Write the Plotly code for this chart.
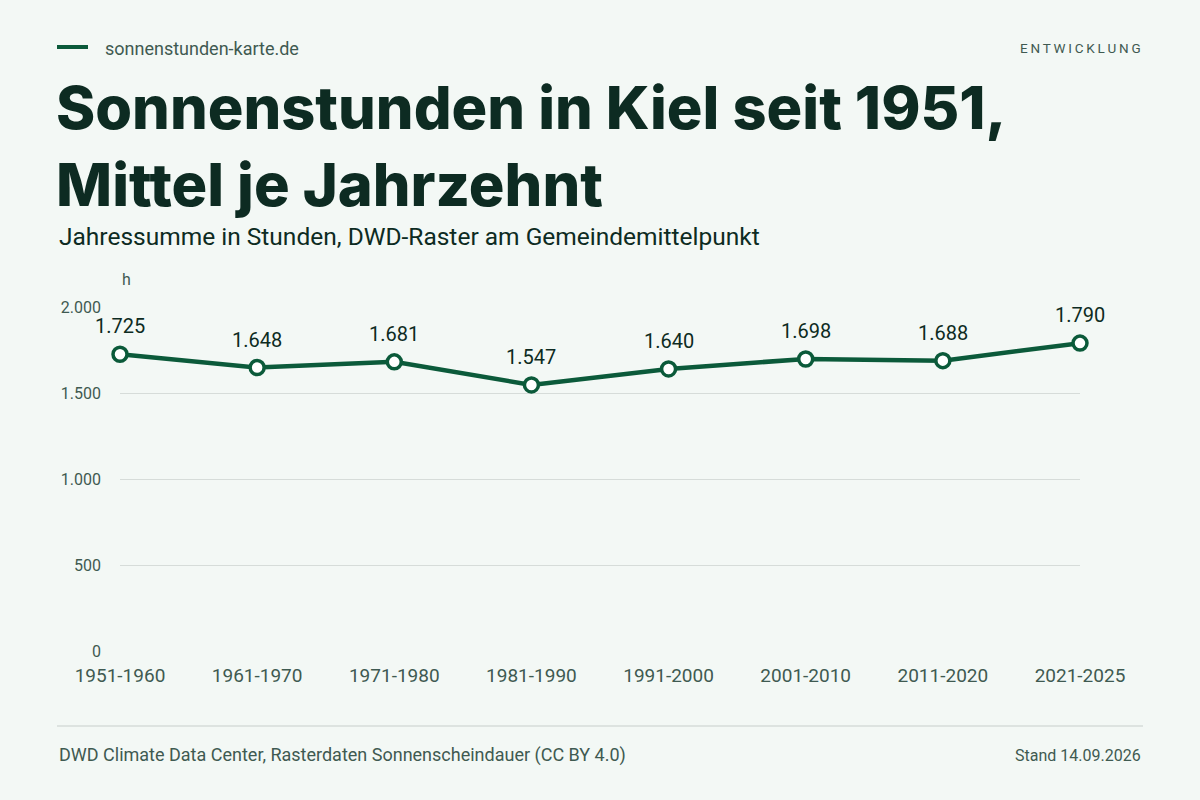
import plotly.graph_objects as go

decades = ["1951-1960", "1961-1970", "1971-1980", "1981-1990",
           "1991-2000", "2001-2010", "2011-2020", "2021-2025"]
hours = [1725, 1648, 1681, 1547, 1640, 1698, 1688, 1790]
y_ticks = [0, 500, 1000, 1500, 2000]
y_tick_text = ["0", "500", "1.000", "1.500", "2.000"]

BG = "#f3f8f5"
GREEN = "#0b5a3a"
DARK = "#0d2b22"
MUTED = "#3f5a51"
GRID = "#d6dcd9"
FONT = "Roboto"

labels = [f"{v:,}".replace(",", ".") for v in hours]
xs = list(range(len(decades)))

fig = go.Figure()
fig.add_trace(go.Scatter(
    x=xs, y=hours,
    mode="lines+markers",
    line=dict(color=GREEN, width=4.5),
    marker=dict(size=14, color="white", line=dict(color=GREEN, width=3.5)),
    cliponaxis=False, hoverinfo="skip",
))
for x, y, t in zip(xs, hours, labels):
    fig.add_annotation(x=x, y=y, text=t, showarrow=False, yshift=28,
                       font=dict(family=FONT, size=20, color=DARK))

fig.update_xaxes(
    range=[0, len(decades) - 1], tickvals=xs, ticktext=decades,
    showgrid=False, zeroline=False, showline=False,
    tickfont=dict(family=FONT, size=19, color=MUTED), ticks="", ticklabelstandoff=11,
)
fig.update_yaxes(
    range=[0, 2000], tickvals=y_ticks, ticktext=y_tick_text,
    showgrid=True, gridcolor=GRID, gridwidth=1, zeroline=False, showline=False,
    tickfont=dict(family=FONT, size=16, color=MUTED), ticks="", ticklabelstandoff=18,
)

px_x = lambda p: (p - 120) / 960
px_y = lambda p: (651 - p) / 344

# header / footer
fig.add_shape(type="line", xref="paper", yref="paper", x0=px_x(57), x1=px_x(88),
              y0=px_y(47), y1=px_y(47), line=dict(color=GREEN, width=4))
fig.add_shape(type="line", xref="paper", yref="paper", x0=px_x(57), x1=px_x(1143),
              y0=px_y(726), y1=px_y(726), line=dict(color=GRID, width=1.5))

def note(text, x, y, size, color, anchor="left", family=FONT, weight="normal"):
    fig.add_annotation(text=text, xref="paper", yref="paper", x=x, y=y,
                       xanchor=anchor, yanchor="middle", showarrow=False, align="left",
                       font=dict(family=family, size=size, color=color, weight=weight))

note("sonnenstunden-karte.de", px_x(103), px_y(48), 18, MUTED)
note("E\u2009N\u2009T\u2009W\u2009I\u2009C\u2009K\u2009L\u2009U\u2009N\u2009G", px_x(1143), px_y(48), 13.5, MUTED, anchor="right")
note("Sonnenstunden in Kiel seit 1951,<br>Mittel je Jahrzehnt", px_x(54), px_y(145), 59.5,
     DARK, family="Inter", weight=800)
note("Jahressumme in Stunden, DWD-Raster am Gemeindemittelpunkt", px_x(57), px_y(236), 24.5, DARK)
note("h", px_x(120), px_y(279), 16, MUTED)
note("DWD Climate Data Center, Rasterdaten Sonnenscheindauer (CC BY 4.0)", px_x(57), px_y(755), 18, MUTED)
note("Stand 14.09.2026", px_x(1143), px_y(755), 16, MUTED, anchor="right")

fig.update_layout(
    width=1200, height=800,
    paper_bgcolor=BG, plot_bgcolor=BG,
    margin=dict(l=120, r=120, t=307, b=149),
    showlegend=False,
    font=dict(family=FONT),
)

fig.write_html("out.html", config={"displayModeBar": False},
               post_script="document.body.style.margin='0';")
